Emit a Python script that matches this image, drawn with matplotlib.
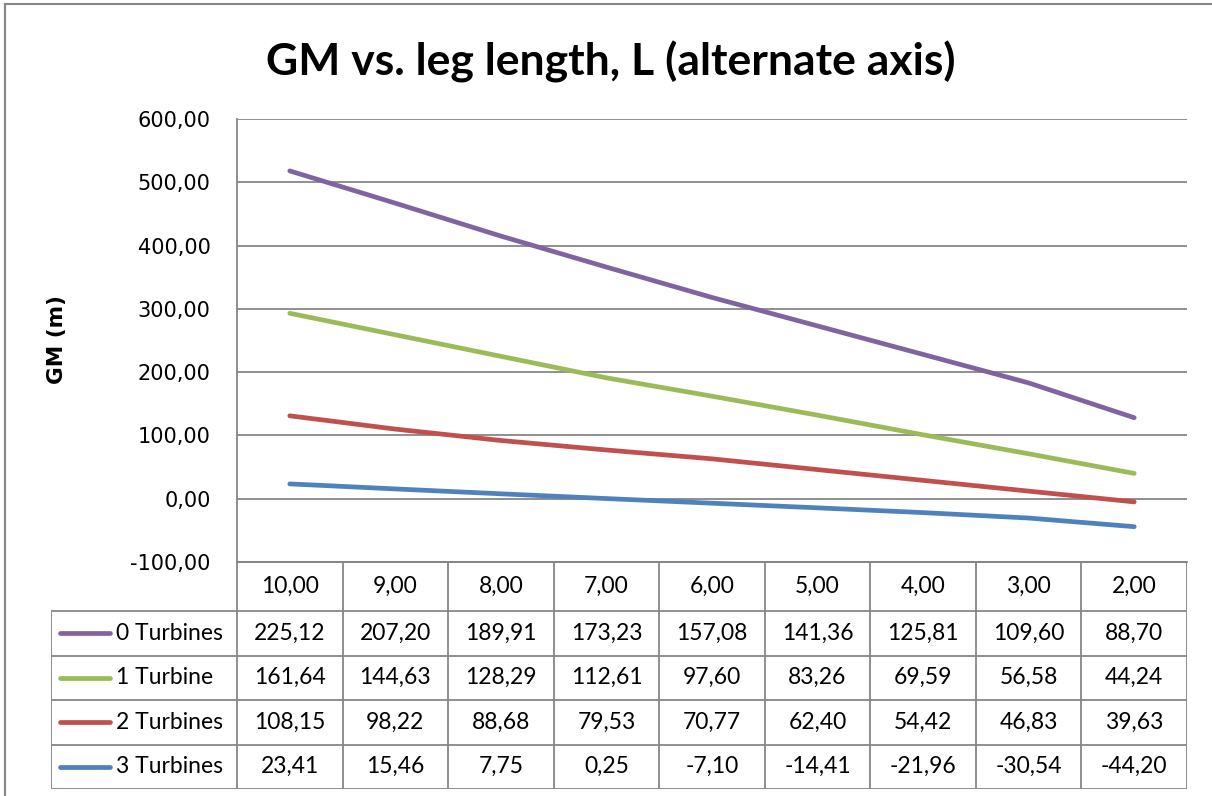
import matplotlib as mpl
import matplotlib.pyplot as plt
from matplotlib.lines import Line2D

# leg length categories (x axis, shown in the data table header)
categories = ["10,00", "9,00", "8,00", "7,00", "6,00", "5,00", "4,00", "3,00", "2,00"]
series_names = ["0 Turbines", "1 Turbine", "2 Turbines", "3 Turbines"]

# plotted GM values
gm_0 = [518, 467, 415, 366, 318, 273, 228, 183, 128]
gm_1 = [293, 259, 225, 191, 162, 132, 101, 71, 40]
gm_2 = [131, 110, 92, 77, 63, 46, 29, 12, -5]
gm_3 = [23.41, 15.46, 7.75, 0.25, -7.10, -14.41, -21.96, -30.54, -44.20]

# values printed in the data table
tbl_0 = ["225,12", "207,20", "189,91", "173,23", "157,08", "141,36", "125,81", "109,60", "88,70"]
tbl_1 = ["161,64", "144,63", "128,29", "112,61", "97,60", "83,26", "69,59", "56,58", "44,24"]
tbl_2 = ["108,15", "98,22", "88,68", "79,53", "70,77", "62,40", "54,42", "46,83", "39,63"]
tbl_3 = ["23,41", "15,46", "7,75", "0,25", "-7,10", "-14,41", "-21,96", "-30,54", "-44,20"]

COLORS = ["#8064A2", "#9BBB59", "#C0504D", "#4F81BD"]
GRID = "#868686"
TXT_FONT = ["Lato", "DejaVu Sans"]

W, H = 1212, 796
fig = plt.figure(figsize=(W / 100, H / 100), dpi=100)


def fx(px):
    return px / W


def fy(py):
    return 1 - py / H


# outer chart border (left + top only visible)
fig.add_artist(Line2D([fx(5), fx(5)], [fy(4), fy(796)], color=GRID, lw=1.5))
fig.add_artist(Line2D([fx(5), fx(1212)], [fy(4), fy(4)], color=GRID, lw=1.5))

# main plot area
L, R, T, B = 237, 1187, 119, 562
ax = fig.add_axes([fx(L), fy(B), fx(R - L), (B - T) / H])
x = list(range(len(categories)))
for vals, c in zip([gm_0, gm_1, gm_2, gm_3], COLORS):
    ax.plot(x, vals, color=c, lw=3.4, solid_capstyle="round", solid_joinstyle="round")

ax.set_xlim(-0.5, len(categories) - 0.5)
ax.set_ylim(-100, 600)
ax.set_yticks(range(-100, 601, 100))
ax.set_yticklabels([f"{v:.2f}".replace(".", ",") for v in range(-100, 601, 100)],
                   fontsize=15, family="DejaVu Sans")
ax.set_xticks([])
ax.tick_params(axis="y", length=0, pad=19)
ax.grid(axis="y", color=GRID, lw=1.3)
ax.set_axisbelow(True)
for s in ["top", "right"]:
    ax.spines[s].set_visible(False)
for s in ["left", "bottom"]:
    ax.spines[s].set_color(GRID)
    ax.spines[s].set_linewidth(1.3)

# data table below the plot, sharing the category scale; y in pixel rows
TL = 51
TB = 789
rows_px = [562, 610.5, 655.5, 700, 744.5, 789]
tax = fig.add_axes([fx(TL), fy(TB), fx(R - TL), (TB - B) / H])
px_unit = (R - L) / len(categories)
x0 = -0.5 - (L - TL) / px_unit
xr = len(categories) - 0.5
tax.set_xlim(x0, xr)
tax.set_ylim(TB, B)
tax.axis("off")

lk = dict(color=GRID, lw=1.3, solid_capstyle="butt")
tax.plot([-0.5, xr], [rows_px[0], rows_px[0]], **lk)
for yb in rows_px[1:]:
    tax.plot([x0, xr], [yb, yb], **lk)
for k in range(len(categories) + 1):
    tax.plot([k - 0.5, k - 0.5], [rows_px[0], rows_px[-1]], **lk)
tax.plot([x0, x0], [rows_px[1], rows_px[-1]], **lk)

yh = (rows_px[0] + rows_px[1]) / 2
for i, c in enumerate(categories):
    tax.text(i, yh, c, ha="center", va="center", fontsize=16.5, family=TXT_FONT)

for r, (name, col, row) in enumerate(zip(series_names, COLORS, [tbl_0, tbl_1, tbl_2, tbl_3])):
    yy = (rows_px[r + 1] + rows_px[r + 2]) / 2
    tax.plot([-0.5 - (L - 60) / px_unit, -0.5 - (L - 110) / px_unit], [yy, yy],
             color=col, lw=3.4, solid_capstyle="round")
    tax.text(-0.5 - (L - 116) / px_unit, yy, name, ha="left", va="center",
             fontsize=16.5, family=TXT_FONT)
    for i, v in enumerate(row):
        tax.text(i, yy, v, ha="center", va="center", fontsize=16.5, family=TXT_FONT)

# title and axis label
fig.text(fx(611), fy(62), "GM vs. leg length, L (alternate axis)", ha="center", va="center",
         fontsize=32, fontweight="bold", family=TXT_FONT)
fig.text(fx(57), fy(340), "GM (m)", ha="center", va="center", rotation=90,
         fontsize=15.5, fontweight="bold", family="DejaVu Sans")

fig.savefig("out.png", dpi=100)
